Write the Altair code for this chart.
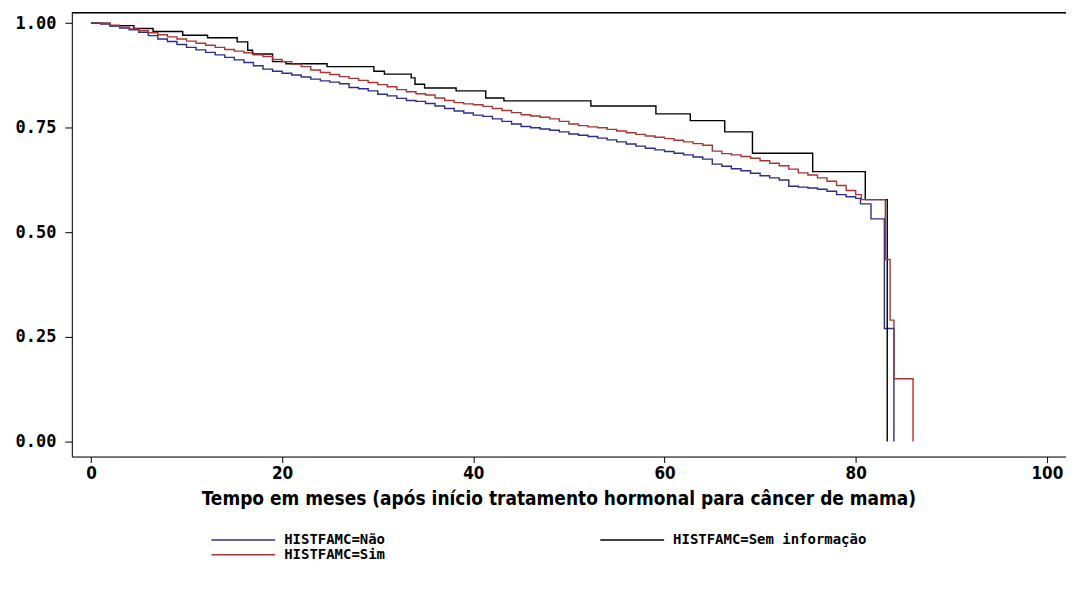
import altair as alt
import pandas as pd

# ---- data (months, survival probability) ----
nao_t = [0, 1, 2, 3, 4, 5, 6, 7, 8, 9, 10, 11, 12, 13, 14, 15, 16, 17, 18, 19,
         20, 21, 22, 23, 24, 25, 26, 27, 28, 29, 30, 31, 32, 33, 34, 35, 36, 37,
         38, 39, 40, 41, 42, 43, 44, 45, 46, 47, 48, 49, 50, 51, 52, 53, 54, 55,
         56, 57, 58, 59, 60, 61, 62, 63, 64, 65, 66, 67, 68, 69, 70, 71, 72, 73,
         74, 75, 76, 77, 78, 79, 80, 80.5, 81.6, 83.0, 84.0]
nao_s = [1.000, 0.998, 0.993, 0.988, 0.984, 0.978, 0.970, 0.962, 0.956, 0.949,
         0.942, 0.936, 0.930, 0.924, 0.918, 0.912, 0.906, 0.898, 0.890, 0.885,
         0.880, 0.876, 0.871, 0.866, 0.862, 0.859, 0.855, 0.846, 0.843, 0.838,
         0.830, 0.826, 0.820, 0.815, 0.813, 0.808, 0.802, 0.796, 0.790, 0.785,
         0.780, 0.777, 0.771, 0.765, 0.759, 0.753, 0.750, 0.747, 0.744, 0.740,
         0.735, 0.732, 0.729, 0.725, 0.721, 0.716, 0.711, 0.706, 0.701, 0.697,
         0.693, 0.689, 0.685, 0.680, 0.675, 0.663, 0.658, 0.652, 0.647, 0.641,
         0.635, 0.630, 0.625, 0.610, 0.608, 0.606, 0.603, 0.598, 0.590, 0.585,
         0.581, 0.568, 0.532, 0.270, 0.000]

sim_t = [0, 1, 2, 3, 4, 5, 6, 7, 8, 9, 10, 11, 12, 13, 14, 15, 16, 17, 18, 19,
         20, 21, 22, 23, 24, 25, 26, 27, 28, 29, 30, 31, 32, 33, 34, 35, 36, 37,
         38, 39, 40, 41, 42, 43, 44, 45, 46, 47, 48, 49, 50, 51, 52, 53, 54, 55,
         56, 57, 58, 59, 60, 61, 62, 63, 64, 65, 66, 67, 68, 69, 70, 71, 72, 73,
         74, 75, 76, 77, 78, 79, 80, 80.6, 83.1, 83.6, 84.0, 86.0]
sim_s = [1.000, 0.999, 0.995, 0.990, 0.986, 0.982, 0.977, 0.972, 0.967, 0.962,
         0.957, 0.952, 0.947, 0.942, 0.937, 0.933, 0.929, 0.924, 0.920, 0.913,
         0.908, 0.902, 0.896, 0.888, 0.882, 0.877, 0.872, 0.868, 0.863, 0.858,
         0.853, 0.848, 0.841, 0.836, 0.831, 0.828, 0.821, 0.815, 0.810, 0.807,
         0.805, 0.801, 0.796, 0.791, 0.786, 0.781, 0.778, 0.775, 0.771, 0.765,
         0.759, 0.755, 0.752, 0.750, 0.746, 0.742, 0.738, 0.734, 0.730, 0.727,
         0.724, 0.720, 0.716, 0.712, 0.708, 0.694, 0.688, 0.685, 0.681, 0.677,
         0.671, 0.665, 0.659, 0.651, 0.642, 0.637, 0.630, 0.622, 0.612, 0.600,
         0.590, 0.578, 0.435, 0.290, 0.150, 0.000]

sem_t = [0, 2.0, 4.5, 6.5, 9.6, 12.2, 15.3, 16.4, 16.9, 19.0, 20.4, 24.7, 29.6,
         30.7, 33.5, 33.9, 34.9, 38.2, 41.3, 43.2, 52.3, 59.1, 62.7, 66.3, 69.2,
         75.5, 81.0, 83.3]
sem_s = [1.000, 0.994, 0.987, 0.980, 0.971, 0.965, 0.955, 0.935, 0.926, 0.908,
         0.903, 0.896, 0.885, 0.878, 0.869, 0.854, 0.845, 0.838, 0.821, 0.814,
         0.802, 0.783, 0.767, 0.740, 0.689, 0.645, 0.578, 0.000]

groups = ["HISTFAMC=Não", "HISTFAMC=Sim", "HISTFAMC=Sem informação"]
colors = ["#2c2c8a", "#a83434", "#000000"]
x_ticks = [0, 20, 40, 60, 80, 100]
y_ticks = [0.0, 0.25, 0.5, 0.75, 1.0]
x_domain = [-2, 102]
y_domain = [-0.036, 1.0246]

rows = []
for g, ts, ss in [(groups[0], nao_t, nao_s), (groups[2], sem_t, sem_s), (groups[1], sim_t, sim_s)]:
    for i, (t, s) in enumerate(zip(ts, ss)):
        rows.append({"tempo": t, "surv": s, "grupo": g, "ordem": i})
df = pd.DataFrame(rows)

mono = "DejaVu Sans Mono"
cond = "DejaVu Sans Condensed, Liberation Sans Narrow, DejaVu Sans, sans-serif"

xscale = alt.Scale(domain=x_domain, nice=False, zero=False)
yscale = alt.Scale(domain=y_domain, nice=False, zero=False)

curves = alt.Chart(df).mark_line(interpolate="step-after", strokeWidth=1.4).encode(
    x=alt.X("tempo:Q", scale=xscale,
            axis=alt.Axis(values=x_ticks, title="Tempo em meses (após início tratamento hormonal para câncer de mama)",
                          grid=False, tickSize=6, labelPadding=3, labelFont=cond, labelFontSize=17,
                          labelFontWeight="bold", labelColor="black", titleFont=cond, titleFontSize=19,
                          titleFontWeight="bold", titleColor="black", titlePadding=8,
                          titleX=488, titleAnchor="start", titleAlign="center",
                          domainColor="black", tickColor="black", labelFlush=False)),
    y=alt.Y("surv:Q", scale=yscale,
            axis=alt.Axis(values=y_ticks, format=".2f", title=None, grid=False, tickSize=7,
                          labelPadding=9, labelFont=mono, labelFontSize=17, labelFontWeight="bold",
                          labelColor="black", domainColor="black", tickColor="black", labelFlush=False)),
    color=alt.Color("grupo:N",
                    scale=alt.Scale(domain=groups, range=colors),
                    legend=alt.Legend(title=None, orient="none", legendX=139, legendY=523,
                                      columns=2, columnPadding=214, rowPadding=0,
                                      symbolType="stroke", symbolSize=4096, symbolStrokeWidth=1.4,
                                      clipHeight=11, labelFont=mono, labelFontSize=14,
                                      labelFontWeight="bold", labelColor="black", labelOffset=8,
                                      labelLimit=400)),
    order="ordem:Q",
)

# top border of the frame
top_border = alt.Chart(pd.DataFrame({"y": [y_domain[1]]})).mark_rule(
    color="black", strokeWidth=1.5
).encode(y=alt.Y("y:Q", scale=yscale))

chart = alt.layer(curves, top_border).properties(
    width=997,
    height=445,
    padding={"left": 64, "top": 4, "right": 0, "bottom": 130},
    autosize=alt.AutoSizeParams(type="none"),
).configure_view(
    stroke="black", strokeWidth=1.5
).configure(background="white")

chart.save("out.html", embed_options={"renderer": "svg", "actions": False})
